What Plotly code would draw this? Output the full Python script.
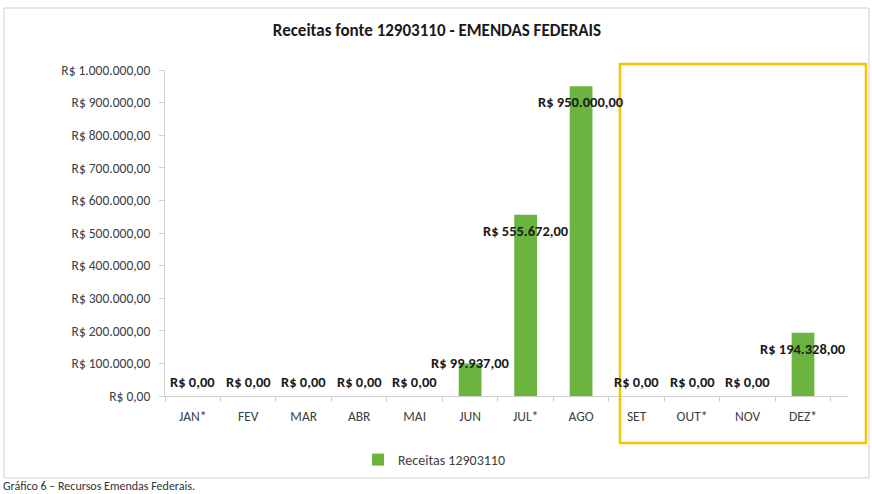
import plotly.graph_objects as go

months = ["JAN*", "FEV", "MAR", "ABR", "MAI", "JUN", "JUL*", "AGO", "SET", "OUT*", "NOV", "DEZ*"]
receitas = [0, 0, 0, 0, 0, 99937, 555672, 950000, 0, 0, 0, 194328]
y_ticks = [0, 100000, 200000, 300000, 400000, 500000, 600000, 700000, 800000, 900000, 1000000]
series_name = "Receitas 12903110"
title_text = "Receitas fonte 12903110 - EMENDAS FEDERAIS"
caption_text = "Gráfico 6 – Recursos Emendas Federais."


def brl(v):
    s = f"{v:,.2f}"  # 1,234,567.89
    s = s.replace(",", "X").replace(".", ",").replace("X", ".")
    return "R$ " + s


FONT = "Carlito, Liberation Sans Narrow, Arial Narrow, Lato, sans-serif"

fig = go.Figure()
fig.add_trace(go.Bar(
    x=months, y=receitas, name=series_name,
    marker=dict(color="#6ab43f", line=dict(width=0)),
    showlegend=True,
))

for m, v in zip(months, receitas):
    if v == 0:
        ys = 14
    elif v < 150000:
        ys = 0
    else:
        ys = -16
    fig.add_annotation(x=m, y=v, text="<b>" + brl(v) + "</b>", showarrow=False,
                       yshift=ys, font=dict(family=FONT, size=14.5, color="#1a1a1a"))

# plot area geometry: x 165..848, y 70..396
L, R, T, B = 165, 848, 70, 396
W, H = R - L, B - T


def px(x):
    return (x - L) / W


def py(y):
    return (B - y) / H


shapes = [
    dict(type="rect", xref="paper", yref="paper", x0=px(4), x1=px(869), y0=py(478), y1=py(8),
         line=dict(color="#d0d0d0", width=1), fillcolor="rgba(0,0,0,0)", layer="below"),
    dict(type="rect", xref="paper", yref="paper", x0=px(620), x1=px(866), y0=py(443), y1=py(64),
         line=dict(color="#f5c400", width=2.5), fillcolor="rgba(0,0,0,0)"),
]

fig.add_annotation(xref="paper", yref="paper", x=px(1), y=py(486), xanchor="left", yanchor="middle",
                   text=caption_text, showarrow=False,
                   font=dict(family=FONT, size=12, color="#333333"))

fig.update_layout(
    width=872, height=494,
    margin=dict(l=L, r=872 - R, t=T, b=494 - B),
    paper_bgcolor="white", plot_bgcolor="white",
    title=dict(text="<b>" + title_text + "</b>", x=437 / 872, xanchor="center",
               y=1 - 30 / 494, yanchor="middle",
               font=dict(family=FONT, size=17, color="#1a1a1a")),
    bargap=0.59,
    shapes=shapes,
    legend=dict(orientation="h", x=px(358), xanchor="left", y=py(460), yanchor="middle",
                font=dict(family=FONT, size=14, color="#404040"), itemwidth=30),
    xaxis=dict(type="category", showline=True, linecolor="#d0d0d0", linewidth=1,
               ticks="outside", tickson="boundaries", ticklen=5, tickcolor="#d0d0d0",
               ticklabelstandoff=8,
               tickfont=dict(family=FONT, size=13.5, color="#404040"), showgrid=False),
    yaxis=dict(range=[0, 1000000], tickvals=y_ticks, ticktext=[brl(v) for v in y_ticks],
               showline=True, linecolor="#d0d0d0", linewidth=1, ticks="outside", ticklen=5,
               ticklabelstandoff=6,
               tickcolor="#d0d0d0", showgrid=False, zeroline=False,
               tickfont=dict(family=FONT, size=13.5, color="#404040")),
)

fig.write_html("out.html", config={"displayModeBar": False},
               post_script="document.body.style.margin='0';document.body.style.overflow='hidden';")
